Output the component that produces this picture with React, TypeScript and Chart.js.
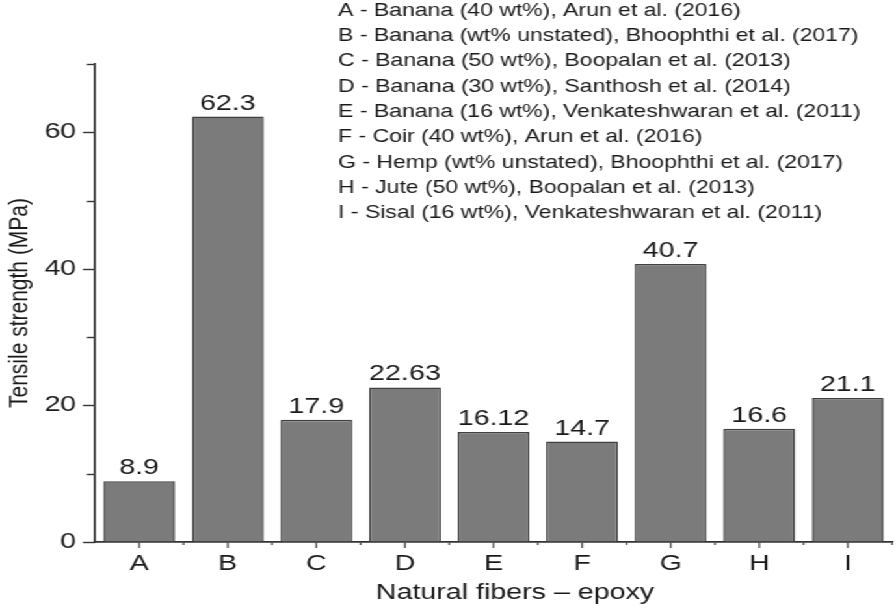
import React, { useEffect, useRef } from 'react';
import { Chart, registerables } from 'chart.js';

Chart.register(...registerables);

// ---- data ----
const categories = ['A', 'B', 'C', 'D', 'E', 'F', 'G', 'H', 'I'];
const tensileStrength = [8.9, 62.3, 17.9, 22.63, 16.12, 14.7, 40.7, 16.6, 21.1];
const valueLabels = ['8.9', '62.3', '17.9', '22.63', '16.12', '14.7', '40.7', '16.6', '21.1'];
const legendLines = [
  'A - Banana (40 wt%), Arun et al. (2016)',
  'B - Banana (wt% unstated), Bhoophthi et al. (2017)',
  'C - Banana (50 wt%), Boopalan et al. (2013)',
  'D - Banana (30 wt%), Santhosh et al. (2014)',
  'E - Banana (16 wt%), Venkateshwaran et al. (2011)',
  'F - Coir (40 wt%), Arun et al. (2016)',
  'G - Hemp (wt% unstated), Bhoophthi et al. (2017)',
  'H - Jute (50 wt%), Boopalan et al. (2013)',
  'I - Sisal (16 wt%), Venkateshwaran et al. (2011)',
];
const yMin = 0;
const yMax = 70;
const yStep = 10;
const yMajorStep = 20;
const yTitle = 'Tensile strength (MPa)';
const xTitle = 'Natural fibers \u2013 epoxy';

// ---- layout (canvas drawn narrow, then stretched horizontally like the reference) ----
const CANVAS_W = 689;
const CANVAS_H = 611;
const STRETCH = 896 / CANVAS_W;
const FONT = '"Liberation Sans", Arial, Helvetica, sans-serif';
const TEXT = '#1a1a1a';
const AXIS = '#333333';

const overlayPlugin = {
  id: 'overlay',
  afterDraw(chart: any) {
    const ctx = chart.ctx as CanvasRenderingContext2D;
    const ys = chart.scales.y;
    const xs = chart.scales.x;
    const meta = chart.getDatasetMeta(0);
    ctx.save();

    // value labels above bars
    ctx.fillStyle = TEXT;
    ctx.font = `22px ${FONT}`;
    ctx.textAlign = 'center';
    ctx.textBaseline = 'alphabetic';
    meta.data.forEach((bar: any, i: number) => {
      ctx.fillText(valueLabels[i], bar.x, bar.y - 7);
    });

    // text legend block
    ctx.font = `17.7px ${FONT}`;
    ctx.textAlign = 'left';
    ctx.textBaseline = 'middle';
    legendLines.forEach((t, i) => {
      ctx.fillText(t, 260, 11 + i * 25.3);
    });

    // x axis title
    ctx.font = `22px ${FONT}`;
    ctx.textAlign = 'center';
    ctx.textBaseline = 'middle';
    ctx.fillText(xTitle, 396, 593);

    // y ticks (major & minor)
    ctx.strokeStyle = AXIS;
    ctx.lineWidth = 1.4;
    const yx = ys.right;
    for (let v = yMin; v <= yMax; v += yStep) {
      const py = Math.round(ys.getPixelForValue(v)) + 0.5;
      const len = v % yMajorStep === 0 ? 9.2 : 6.2;
      ctx.beginPath();
      ctx.moveTo(yx - len, py);
      ctx.lineTo(yx, py);
      ctx.stroke();
    }

    // x ticks (major at categories, minor at boundaries)
    ctx.strokeStyle = '#555555';
    const top = xs.top;
    categories.forEach((_, i) => {
      const px = xs.getPixelForValue(i);
      ctx.beginPath();
      ctx.moveTo(px, top);
      ctx.lineTo(px, top + 6);
      ctx.stroke();
      const bx = xs.getPixelForValue(i + 0.5);
      ctx.beginPath();
      ctx.moveTo(bx, top);
      ctx.lineTo(bx, top + 3);
      ctx.stroke();
    });

    ctx.restore();
  },
};

export default function App() {
  const canvasRef = useRef<HTMLCanvasElement | null>(null);

  useEffect(() => {
    const canvas = canvasRef.current;
    if (!canvas) return;
    const chart = new Chart(canvas, {
      type: 'bar',
      data: {
        labels: categories,
        datasets: [
          {
            data: tensileStrength,
            backgroundColor: '#7b7b7b',
            borderColor: '#404040',
            borderWidth: 1.5,
            barPercentage: 0.81,
            categoryPercentage: 1,
          },
        ],
      },
      options: {
        animation: false,
        responsive: false,
        devicePixelRatio: 1,
        events: [],
        layout: { padding: { top: 64, right: 3, left: 0, bottom: 0 } },
        plugins: {
          legend: { display: false },
          tooltip: { enabled: false },
          title: { display: false },
        },
        scales: {
          x: {
            type: 'category',
            offset: true,
            grid: {
              display: true,
              drawOnChartArea: false,
              drawTicks: true,
              tickLength: 6,
              tickColor: 'rgba(0,0,0,0)',
            },
            border: { display: true, color: AXIS, width: 1.7 },
            ticks: {
              color: TEXT,
              font: { family: FONT, size: 22 },
              padding: 3,
              maxRotation: 0,
              autoSkip: false,
            },
            afterFit: (scale: any) => {
              scale.height = 69;
            },
          },
          y: {
            min: yMin,
            max: yMax,
            grid: {
              display: true,
              drawOnChartArea: false,
              drawTicks: true,
              tickLength: 9.2,
              tickColor: 'rgba(0,0,0,0)',
            },
            border: { display: true, color: AXIS, width: 1.7 },
            ticks: {
              stepSize: yStep,
              color: TEXT,
              font: { family: FONT, size: 22 },
              padding: 5.2,
              callback: (v: any) => (Number(v) % yMajorStep === 0 ? String(v) : ''),
            },
            title: {
              display: true,
              text: yTitle,
              color: TEXT,
              font: { family: FONT, size: 21 },
              padding: { top: 3, bottom: 0 },
            },
            afterFit: (scale: any) => {
              scale.width = 73;
            },
          },
        },
      },
      plugins: [overlayPlugin],
    });
    return () => chart.destroy();
  }, []);

  return (
    <div
      style={{
        position: 'fixed',
        left: 0,
        top: 0,
        width: CANVAS_W,
        height: CANVAS_H,
        transform: `scaleX(${STRETCH})`,
        transformOrigin: '0 0',
        background: '#ffffff',
      }}
    >
      <canvas
        ref={canvasRef}
        width={CANVAS_W}
        height={CANVAS_H}
        style={{ width: CANVAS_W, height: CANVAS_H, display: 'block' }}
      />
    </div>
  );
}
